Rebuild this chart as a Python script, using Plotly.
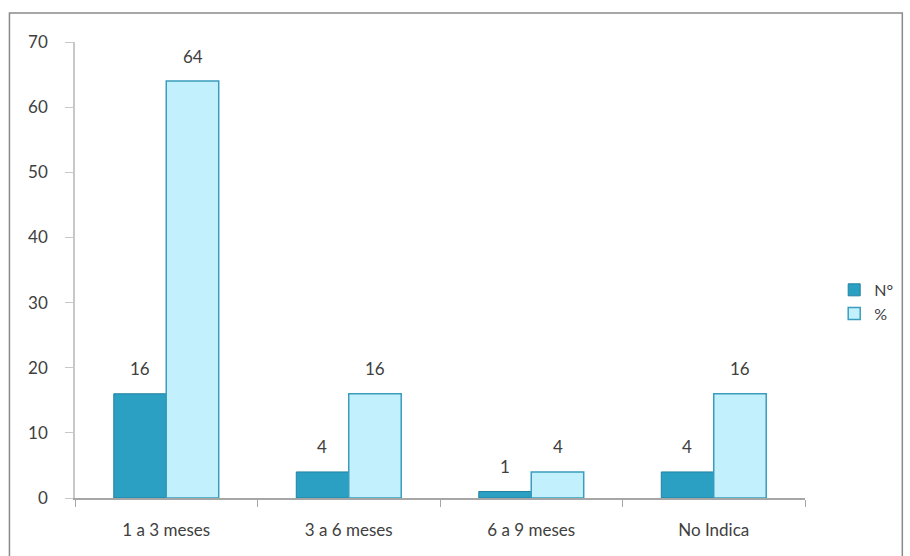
import plotly.graph_objects as go

categories = ["1 a 3 meses", "3 a 6 meses", "6 a 9 meses", "No Indica"]
n_values = [16, 4, 1, 4]
pct_values = [64, 16, 4, 16]
series_names = ["N°", "%"]

FONT = "Lato, 'Open Sans', sans-serif"
TXT = "#404040"

fig = go.Figure()
fig.add_trace(go.Bar(
    x=categories, y=n_values, name=series_names[0], offsetgroup="a",
    marker=dict(color="#2BA0C2", line=dict(color="#2381A0", width=1)),
))
fig.add_trace(go.Bar(
    x=categories, y=pct_values, name=series_names[1], offsetgroup="b",
    marker=dict(color="#C2F0FD", line=dict(color="#3A9DBD", width=1.5)),
))

# data labels as annotations (positioned by data coordinates)
annotations = []
for i, c in enumerate(categories):
    annotations.append(dict(x=i, y=n_values[i], xref="x", yref="y", xshift=-26.5,
                            yshift=25, text=str(n_values[i]), showarrow=False,
                            font=dict(family=FONT, size=17, color=TXT)))
    annotations.append(dict(x=i, y=pct_values[i], xref="x", yref="y", xshift=26.5,
                            yshift=25, text=str(pct_values[i]), showarrow=False,
                            font=dict(family=FONT, size=17, color=TXT)))

fig.update_layout(
    width=910, height=556,
    margin=dict(l=75, r=100, t=42, b=58),
    paper_bgcolor="white", plot_bgcolor="white",
    barmode="group", bargap=0.425, bargroupgap=0,
    font=dict(family=FONT, size=17, color=TXT),
    showlegend=True,
    legend=dict(x=1.04, y=0.43, xanchor="left", yanchor="middle",
                font=dict(family=FONT, size=16, color=TXT),
                itemwidth=30, tracegroupgap=4, bgcolor="rgba(0,0,0,0)"),
    xaxis=dict(showline=True, linecolor="#A6A6A6", linewidth=1.5,
               ticks="outside", tickson="boundaries", ticklen=7,
               tickcolor="#A6A6A6", showgrid=False, ticklabelstandoff=16,
               tickfont=dict(family=FONT, size=17, color=TXT)),
    yaxis=dict(range=[0, 70], dtick=10, showline=True, linecolor="#C8C8C8",
               linewidth=1.5, ticks="outside", ticklen=8, tickcolor="#C8C8C8",
               showgrid=False, zeroline=False, ticklabelstandoff=14,
               tickfont=dict(family=FONT, size=17, color=TXT)),
    annotations=annotations,
    shapes=[dict(type="rect", xref="paper", yref="paper",
                 x0=-0.0898, x1=1.1333, y0=-0.14, y1=1.0636,
                 line=dict(color="#8A8A8A", width=1.5), fillcolor="rgba(0,0,0,0)",
                 layer="below")],
)

fig.write_html("out.html")
